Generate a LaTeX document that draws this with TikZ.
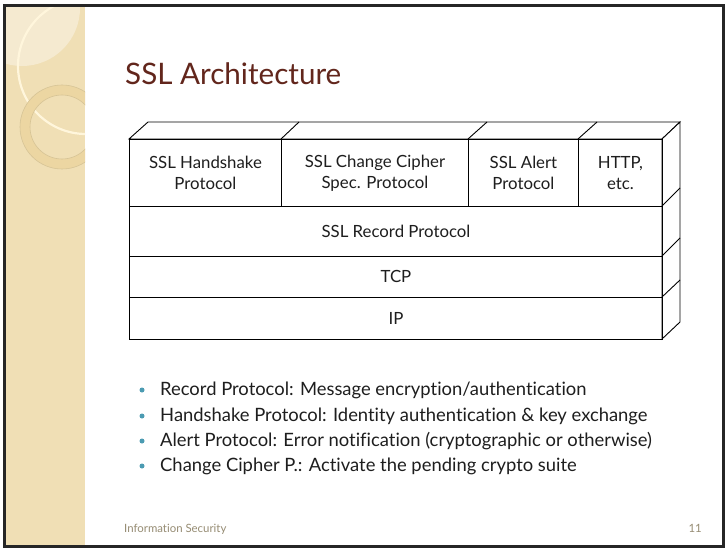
\documentclass[tikz,border=0pt]{standalone}
\usepackage{fontspec}
\setmainfont{Lato}[Ligatures=NoCommon]
\definecolor{panel}{RGB}{240,223,181}
\definecolor{panellight}{RGB}{245,234,208}
\definecolor{ringc}{RGB}{236,214,162}
\definecolor{ringedge}{RGB}{214,196,150}
\definecolor{cream}{RGB}{255,246,220}
\definecolor{titlec}{RGB}{98,38,28}
\definecolor{bulletc}{RGB}{75,155,178}
\definecolor{footc}{RGB}{150,140,115}
\definecolor{textc}{RGB}{30,30,30}
\begin{document}
\begin{tikzpicture}[x=1pt,y=-1pt,
  cell/.style={draw=black,line width=0.9pt,anchor=north west,inner sep=0pt,
    align=center,font=\fontsize{16.8}{21}\selectfont,text=textc},
  face/.style={draw=black,line width=0.9pt,fill=white},
  bul/.style={circle,fill=bulletc,inner sep=0pt,minimum size=5pt},
  btext/.style={anchor=west,inner sep=0pt,font=\fontsize{18.4}{20}\selectfont,text=textc}]
\useasboundingbox (0,0) rectangle (726,548);
% background
\fill[white] (0,0) rectangle (726,548);
% left panel
\fill[panel] (5,7) rectangle (85,545);
\begin{scope}
  \clip (5,7) rectangle (85,545);
  \fill[panellight] (22,8) circle[radius=58];
  \draw[cream,line width=2.2pt] (86,66) circle[radius=68];
  \fill[ringc,even odd rule] (62,127) circle[radius=42] (62,127) circle[radius=32];
  \draw[ringedge,line width=0.6pt] (62,127) circle[radius=42];
  \draw[ringedge,line width=0.6pt] (62,127) circle[radius=32];
\end{scope}
% frame
\draw[black!85,line width=3pt] (4.5,6) rectangle (723.5,546);
% title
\node[anchor=base west,inner sep=0pt,text=titlec,font=\fontsize{29.6}{31}\selectfont] (title) at (125,85) {SSL Architecture};
% 3D faces
\draw[face] (129,139) -- (148,122) -- (680,122) -- (662,139) -- cycle;
\draw[face] (662,139) -- (680,122) -- (680,322) -- (662,339) -- cycle;
\draw[line width=0.9pt] (281,139) -- (299,122);
\draw[line width=0.9pt] (468,139) -- (487,122);
\draw[line width=0.9pt] (578,139) -- (597,122);
\draw[line width=0.9pt] (662,206) -- (680,188);
\draw[line width=0.9pt] (662,256) -- (680,238);
\draw[line width=0.9pt] (662,297) -- (680,280);
% cells
\node[cell,minimum width=152pt,minimum height=67pt] (hs) at (129,139) {SSL Handshake\\Protocol};
\node[cell,minimum width=187pt,minimum height=67pt] (ccs) at (281,139) {SSL Change Cipher\\Spec. Protocol};
\node[cell,minimum width=110pt,minimum height=67pt] (alert) at (468,139) {SSL Alert\\Protocol};
\node[cell,minimum width=84pt,minimum height=67pt] (http) at (578,139) {HTTP,\\etc.};
\node[cell,minimum width=533pt,minimum height=50pt] (rec) at (129,206) {SSL Record Protocol};
\node[cell,minimum width=533pt,minimum height=41pt] (tcp) at (129,256) {TCP};
\node[cell,minimum width=533pt,minimum height=42pt] (ip) at (129,297) {IP};
% bullets
\node[bul] (b1) at (142,390) {};
\node[bul] (b2) at (142,416) {};
\node[bul] (b3) at (142,441) {};
\node[bul] (b4) at (142,466) {};
\node[btext] (t1) at (160,390) {Record Protocol: Message encryption/authentication};
\node[btext] (t2) at (160,416) {Handshake Protocol: Identity authentication \& key exchange};
\node[btext] (t3) at (160,441) {Alert Protocol: Error notification (cryptographic or otherwise)};
\node[btext] (t4) at (160,466) {Change Cipher P.: Activate the pending crypto suite};
% footer
\node[anchor=base west,inner sep=0pt,text=footc,font=\fontsize{11.4}{13}\selectfont] (foot) at (124,532) {Information Security};
\node[anchor=base east,inner sep=0pt,text=footc,font=\fontsize{11.4}{13}\selectfont] (page) at (702,532) {11};
\end{tikzpicture}
\end{document}
